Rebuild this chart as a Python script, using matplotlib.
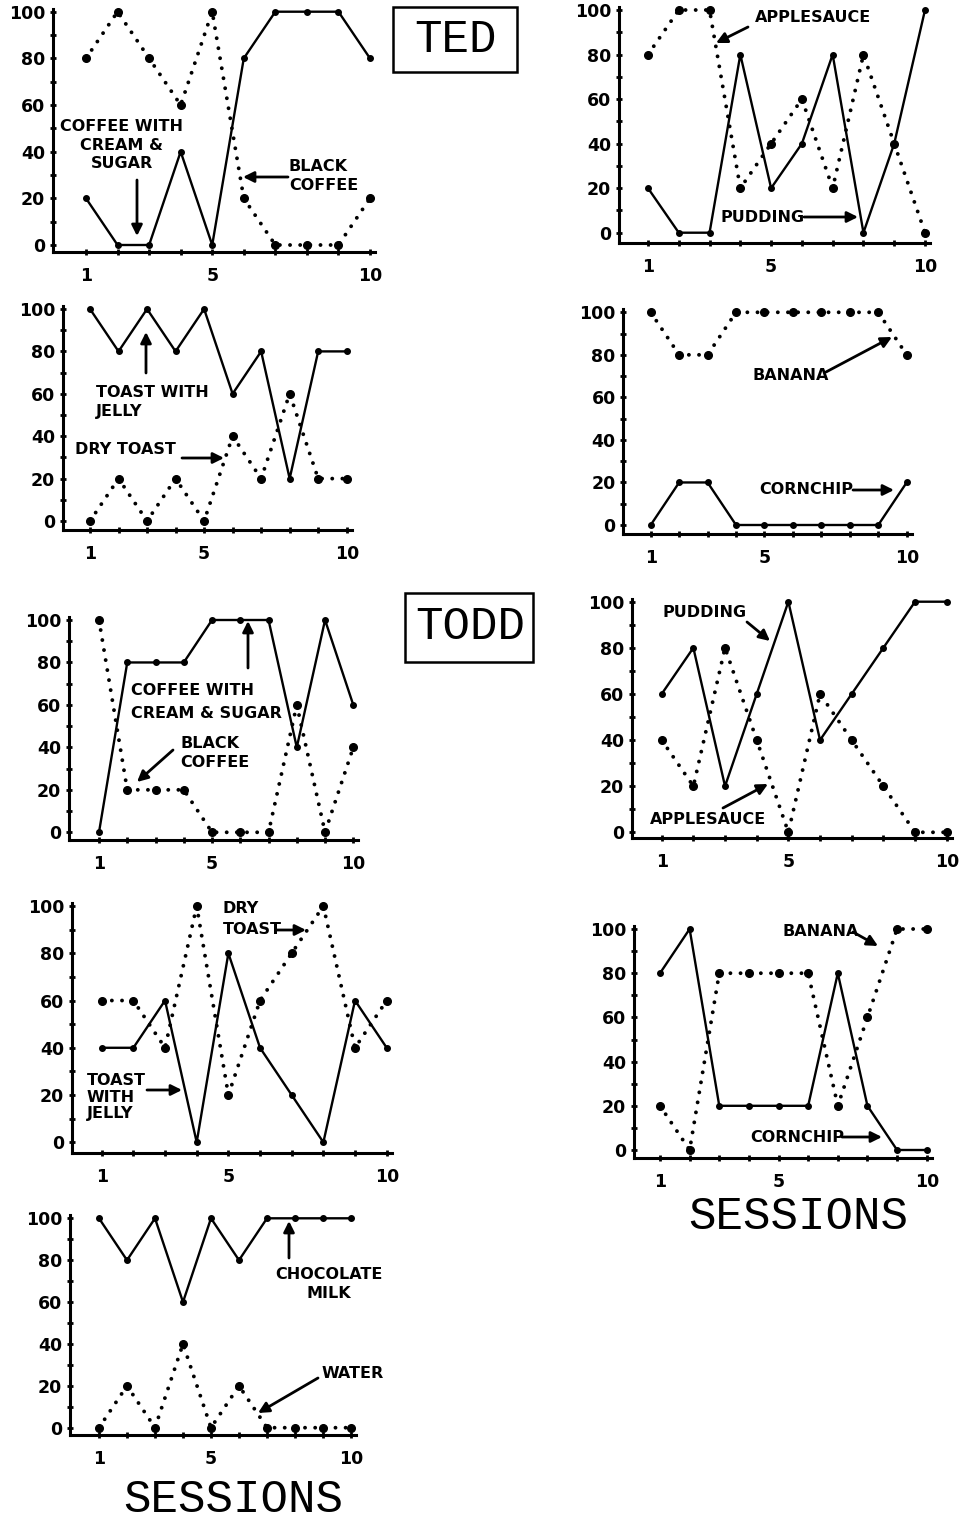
import numpy as np
import matplotlib.pyplot as plt
from matplotlib.patches import Rectangle, FancyArrowPatch

plt.rcParams['font.family'] = ['DejaVu Sans']
plt.rcParams['font.weight'] = 'bold'

W, H = 964, 1525
sessions = np.arange(1, 11)

# TED
ted_coffee_cream = [20, 0, 0, 40, 0, 80, 100, 100, 100, 80]
ted_coffee_black = [80, 100, 80, 60, 100, 20, 0, 0, 0, 20]
ted_pudding = [20, 0, 0, 80, 20, 40, 80, 0, 40, 100]
ted_applesauce = [80, 100, 100, 20, 40, 60, 20, 80, 40, 0]
ted_toast_jelly = [100, 80, 100, 80, 100, 60, 80, 20, 80, 80]
ted_dry_toast = [0, 20, 0, 20, 0, 40, 20, 60, 20, 20]
ted_cornchip = [0, 20, 20, 0, 0, 0, 0, 0, 0, 20]
ted_banana = [100, 80, 80, 100, 100, 100, 100, 100, 100, 80]

# TODD
todd_coffee_cream = [0, 80, 80, 80, 100, 100, 100, 40, 100, 60]
todd_coffee_black = [100, 20, 20, 20, 0, 0, 0, 60, 0, 40]
todd_pudding = [60, 80, 20, 60, 100, 40, 60, 80, 100, 100]
todd_applesauce = [40, 20, 80, 40, 0, 60, 40, 20, 0, 0]
todd_toast_jelly = [40, 40, 60, 0, 80, 40, 20, 0, 60, 40]
todd_dry_toast = [60, 60, 40, 100, 20, 60, 80, 100, 40, 60]
todd_cornchip = [80, 100, 20, 20, 20, 20, 80, 20, 0, 0]
todd_banana = [20, 0, 80, 80, 80, 80, 20, 60, 100, 100]
todd_choc_milk = [100, 80, 100, 60, 100, 80, 100, 100, 100, 100]
todd_water = [0, 20, 0, 40, 0, 20, 0, 0, 0, 0]

xtick_labels = ['1', '', '', '', '5', '', '', '', '', '10']

fig = plt.figure(figsize=(W / 100, H / 100), dpi=100)


def fpos(x, y):
    return (x / W, 1 - y / H)


def panel(geom, solid, dotted):
    # geom: pixel x of session 1 and 10, pixel y of 0 and 100, left spine, bottom spine
    x1, x10, y0, y100, left, bottom = geom
    sx = (x10 - x1) / 9
    sy = (y0 - y100) / 100
    right, top = x10 + 5, y100 - 3
    ax = fig.add_axes([left / W, 1 - bottom / H, (right - left) / W, (bottom - top) / H])
    ax.set_xlim(1 - (x1 - left) / sx, 10 + 5 / sx)
    ax.set_ylim(-(bottom - y0) / sy, 100 + 3 / sy)
    ax.plot(sessions, solid, color='k', lw=1.7, marker='o', ms=4, clip_on=False)
    ax.plot(sessions, dotted, color='k', lw=2.8, linestyle=(0, (0.01, 2.6)),
            dash_capstyle='round', clip_on=False)
    ax.plot(sessions, dotted, 'o', color='k', ms=5.5, clip_on=False)
    for s in ['top', 'right']:
        ax.spines[s].set_visible(False)
    for s in ['left', 'bottom']:
        ax.spines[s].set_linewidth(2.2)
    ax.set_xticks(sessions)
    ax.set_xticklabels(xtick_labels)
    ax.set_yticks(range(0, 101, 20))
    ax.set_yticks(range(10, 100, 20), minor=True)
    ax.tick_params(direction='inout', length=5, width=2, labelsize=12.5)
    ax.tick_params(axis='x', pad=8)
    ax.tick_params(axis='y', pad=3)
    ax.tick_params(which='minor', direction='inout', length=5, width=2)
    ax.patch.set_alpha(0)
    return ax


panel((86, 370, 245, 11.7, 53, 252), ted_coffee_cream, ted_coffee_black)
panel((648, 925, 232.7, 10, 619, 243), ted_pudding, ted_applesauce)
panel((90, 346.7, 521, 309, 62.7, 530), ted_toast_jelly, ted_dry_toast)
panel((650.7, 906.7, 525, 312.3, 623.3, 534), ted_cornchip, ted_banana)
panel((99, 353.3, 832.3, 620, 69, 840), todd_coffee_cream, todd_coffee_black)
panel((661.7, 946.7, 832.3, 601.7, 631.7, 838.3), todd_pudding, todd_applesauce)
panel((101.7, 386.7, 1142.3, 906, 71.7, 1153.3), todd_toast_jelly, todd_dry_toast)
panel((660, 926.7, 1150, 929, 634, 1158.3), todd_cornchip, todd_banana)
panel((99, 351, 1427.7, 1218.3, 70, 1435), todd_choc_milk, todd_water)

# labels: text, x, y, ha, linespacing
labels = [
    ("COFFEE WITH\nCREAM &\nSUGAR", 122, 145, 'center', 1.3),
    ("BLACK\nCOFFEE", 289, 176, 'left', 1.35),
    ("APPLESAUCE", 755, 17, 'left', 1.0),
    ("PUDDING", 720, 218, 'left', 1.0),
    ("TOAST WITH\nJELLY", 96, 402, 'left', 1.3),
    ("DRY TOAST", 75, 450, 'left', 1.0),
    ("BANANA", 753, 375, 'left', 1.0),
    ("CORNCHIP", 759, 490, 'left', 1.0),
    ("COFFEE WITH\nCREAM & SUGAR", 131, 702, 'left', 1.6),
    ("BLACK\nCOFFEE", 180, 753, 'left', 1.35),
    ("PUDDING", 663, 613, 'left', 1.0),
    ("APPLESAUCE", 650, 820, 'left', 1.0),
    ("DRY\nTOAST", 223, 919, 'left', 1.48),
    ("TOAST\nWITH\nJELLY", 87, 1097, 'left', 1.15),
    ("BANANA", 782, 932, 'left', 1.0),
    ("CORNCHIP", 750, 1137, 'left', 1.0),
    ("CHOCOLATE\nMILK", 329, 1284, 'center', 1.35),
    ("WATER", 322, 1373, 'left', 1.0),
]
for txt, x, y, ha, ls in labels:
    fig.text(*fpos(x, y), txt, ha=ha, va='center', fontsize=11.5,
             fontweight='bold', linespacing=ls, multialignment=ha)

arrows = [
    ((137, 180), (137, 236)),
    ((288, 177), (243, 177)),
    ((748, 27), (716, 43)),
    ((804, 217), (858, 217)),
    ((146, 373), (146, 332)),
    ((182, 458), (224, 458)),
    ((826, 372), (892, 337)),
    ((853, 490), (894, 490)),
    ((248, 668), (248, 621)),
    ((173, 750), (137, 782)),
    ((747, 622), (770, 641)),
    ((723, 808), (768, 784)),
    ((276, 930), (306, 930)),
    ((147, 1090), (182, 1090)),
    ((853, 932), (878, 946)),
    ((842, 1137), (882, 1137)),
    ((289, 1258), (289, 1221)),
    ((318, 1378), (258, 1413)),
]
for a, b in arrows:
    fig.add_artist(FancyArrowPatch(fpos(*a), fpos(*b), transform=fig.transFigure,
                                   arrowstyle='-|>', mutation_scale=16, lw=2,
                                   color='k', shrinkA=0, shrinkB=0))

# name boxes
for name, (cx, cy), (bx0, by0, bx1, by1) in [
        ("TED", (455, 40), (393, 7, 517, 72)),
        ("TODD", (470, 627), (405, 593, 533, 662))]:
    fig.text(*fpos(cx, cy), name, ha='center', va='center', fontsize=33,
             fontweight='normal', family=['Liberation Mono', 'DejaVu Sans Mono'])
    fig.add_artist(Rectangle(fpos(bx0, by1), (bx1 - bx0) / W, (by1 - by0) / H,
                             transform=fig.transFigure, fill=False, lw=1.8, color='k'))

for cx, cy in [(233, 1500), (798, 1217)]:
    fig.text(*fpos(cx, cy), "SESSIONS", ha='center', va='center', fontsize=33,
             fontweight='normal', family=['Liberation Mono', 'DejaVu Sans Mono'])

fig.savefig('out.png', dpi=100)
